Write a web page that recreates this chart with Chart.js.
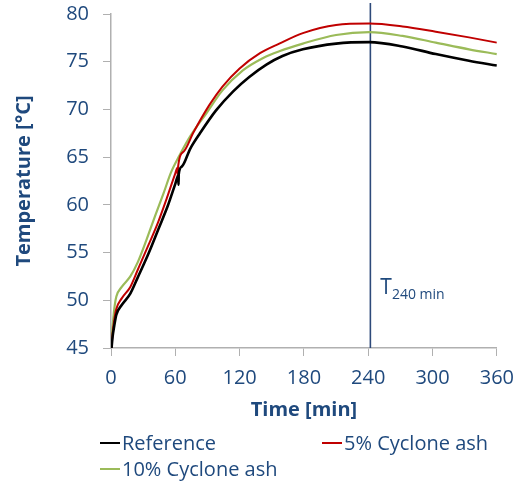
<!DOCTYPE html>
<html>
<head>
<meta charset="utf-8">
<script src="https://cdn.jsdelivr.net/npm/chart.js@4"></script>
<style>
html,body{margin:0;padding:0;background:#fff;}
#wrap{position:relative;width:524px;height:492px;}
</style>
</head>
<body>
<div id="wrap"><canvas id="c"></canvas></div>
<script>
// ---- data ----
const seriesNames = ['Reference', '5% Cyclone ash', '10% Cyclone ash'];
const seriesColors = ['#000000', '#C00000', '#9BBB59'];

const refTime = [0.5,1.5,3,5,10,18,25,35,44,53,60,62.8,63,63.2,66,74,83,98,114,129,145,160,179,210,241,272,303,334,360];
const refTemp = [45.0,46.2,47.3,48.5,49.5,50.7,52.4,54.9,57.4,59.9,62.2,63.1,62.1,63.2,64.0,65.9,67.5,69.9,71.9,73.4,74.7,75.6,76.3,76.9,77.05,76.6,75.8,75.1,74.6];

const ash5Time = [0.5,1.5,3,5,10,18,25,35,44,53,60,62,62.3,62.6,68,77,92,104,120,139,157,179,210,241,272,303,334,360];
const ash5Temp = [45.0,46.5,47.9,49.1,50.2,51.4,53.2,55.8,58.2,61.0,63.3,63.9,63.0,64.0,65.6,67.6,70.5,72.4,74.3,75.9,76.9,78.0,78.85,79.0,78.7,78.15,77.55,77.0];

const ash10Time = [0.5,1,2,3.5,5,10,18,25,33,41,49,56,64,74,89,104,123,142,157,179,210,241,272,303,334,360];
const ash10Temp = [45.0,46.5,47.9,49.5,50.4,51.4,52.5,54.0,56.3,58.8,61.2,63.4,65.2,67.2,69.6,72.0,74.1,75.4,76.1,76.9,77.8,78.1,77.7,77.0,76.3,75.8];

const markerTime = [242, 242];
const markerTemp = [45, 81.15];
const markerLabel = 'T';
const markerSub = '240 min';

const xTicks = [0, 60, 120, 180, 240, 300, 360];
const yTicks = [45, 50, 55, 60, 65, 70, 75, 80];
const xTitle = 'Time [min]';
const yTitle = 'Temperature [°C]';

// ---- build ----
const toPts = (xs, ys) => xs.map((x, i) => ({x: x, y: ys[i]}));
const textColor = '#1F497D';
const axisColor = '#B0B0B0';
const FONT = "'Open Sans', 'DejaVu Sans', sans-serif";

const datasets = [
  {label: seriesNames[0], data: toPts(refTime, refTemp), borderColor: seriesColors[0], borderWidth: 2.6},
  {label: seriesNames[1], data: toPts(ash5Time, ash5Temp), borderColor: seriesColors[1], borderWidth: 2},
  {label: seriesNames[2], data: toPts(ash10Time, ash10Temp), borderColor: seriesColors[2], borderWidth: 2.2},
  {label: 'marker', data: toPts(markerTime, markerTemp), borderColor: '#2E4A7A', borderWidth: 1.6, clip: false, isMarker: true}
].map(d => Object.assign({pointRadius: 0, fill: false, tension: 0, cubicInterpolationMode: d.isMarker ? 'default' : 'monotone', showLine: true}, d));

const customPlugin = {
  id: 'custom',
  afterDraw(chart) {
    const ctx = chart.ctx;
    const xs = chart.scales.x;
    ctx.save();
    const mx = xs.getPixelForValue(markerTime[0]);
    ctx.fillStyle = textColor;
    ctx.textBaseline = 'alphabetic';
    ctx.textAlign = 'left';
    ctx.font = "21px " + FONT;
    ctx.fillText(markerLabel, mx + 10, 294);
    const tw = ctx.measureText(markerLabel).width;
    ctx.font = "14px " + FONT;
    ctx.fillText(markerSub, mx + 10 + tw, 299);
    const items = [
      {i: 0, x: 100, y: 443},
      {i: 1, x: 322, y: 443},
      {i: 2, x: 100, y: 469}
    ];
    ctx.font = "20px " + FONT;
    ctx.textBaseline = 'middle';
    items.forEach(it => {
      const ds = chart.data.datasets[it.i];
      ctx.strokeStyle = ds.borderColor;
      ctx.lineWidth = 2;
      ctx.beginPath();
      ctx.moveTo(it.x, it.y);
      ctx.lineTo(it.x + 20, it.y);
      ctx.stroke();
      ctx.fillStyle = textColor;
      ctx.fillText(ds.label, it.x + 22, it.y + 1);
    });
    ctx.restore();
  }
};

new Chart(document.getElementById('c'), {
  type: 'line',
  data: {datasets: datasets},
  plugins: [customPlugin],
  options: {
    responsive: true,
    maintainAspectRatio: false,
    animation: false,
    layout: {padding: {top: 14, right: 26, bottom: 70, left: 0}},
    plugins: {legend: {display: false}, tooltip: {enabled: false}},
    scales: {
      x: {
        type: 'linear', min: 0, max: 360,
        afterBuildTicks(s) { s.ticks = xTicks.map(v => ({value: v})); },
        afterFit(s) { s.height = 74; },
        grid: {display: true, drawOnChartArea: false, drawTicks: true, tickLength: 8, color: axisColor, lineWidth: 1},
        border: {display: true, color: axisColor, width: 1.5},
        ticks: {color: textColor, font: {family: FONT, size: 20}, padding: 10, maxRotation: 0, autoSkip: false},
        title: {display: true, text: xTitle, color: textColor, font: {family: FONT, size: 20, weight: 'bold'}, padding: {top: 0, bottom: 0}}
      },
      y: {
        type: 'linear', min: 45, max: 80,
        afterBuildTicks(s) { s.ticks = yTicks.map(v => ({value: v})); },
        afterFit(s) { s.width = 111; s.paddingTop = 0; },
        grid: {display: true, drawOnChartArea: false, drawTicks: true, tickLength: 8, color: axisColor, lineWidth: 1},
        border: {display: true, color: axisColor, width: 1.5},
        ticks: {color: textColor, font: {family: FONT, size: 20}, padding: 14, autoSkip: false},
        title: {display: true, text: yTitle, color: textColor, font: {family: FONT, size: 20, weight: 'bold'}, padding: {top: 12, bottom: 0}}
      }
    }
  }
});
</script>
</body>
</html>
